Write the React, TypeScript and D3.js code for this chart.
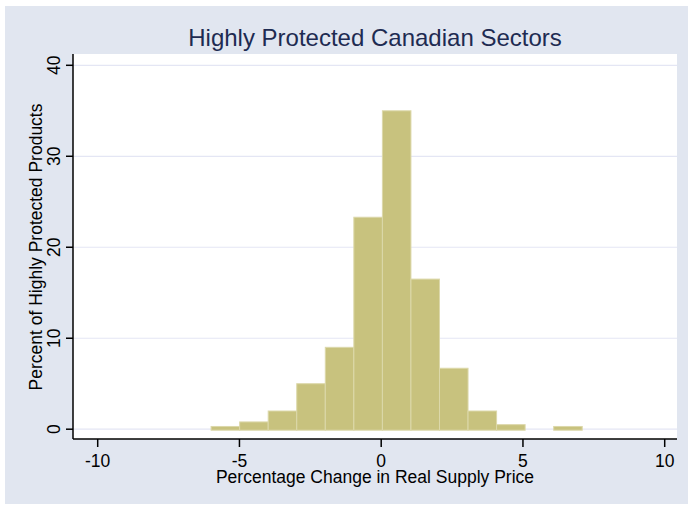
import React from 'react';
import * as d3 from 'd3';

// histogram of % change in real supply price, Stata-style look
const binStart = -6.0;
const binWidth = 1.007;
const percents = [0.3, 0.8, 2.0, 5.0, 9.0, 23.3, 35.0, 16.5, 6.7, 2.0, 0.5, 0, 0.3];
const xTicks = [-10, -5, 0, 5, 10];
const yTicks = [0, 10, 20, 30, 40];

const W = 688;
const H = 506;
const plot = { left: 73, right: 677, top: 54, bottom: 439 };

export default function App() {
  const x = d3.scaleLinear().domain([-10, 10]).range([97.7, 664.7]);
  const y = d3.scaleLinear().domain([0, 40]).range([429.2, 65.3]);

  const bins = percents.map((v, i) => ({
    x0: binStart + i * binWidth,
    x1: binStart + (i + 1) * binWidth,
    v,
  }));

  const font = 'Arial, "Liberation Sans", sans-serif';

  return (
    <svg
      width={W}
      height={H}
      style={{ position: 'absolute', left: 0, top: 0, display: 'block' }}
      fontFamily={font}
    >
      <rect x={0} y={0} width={W} height={H} fill="#ffffff" />
      <rect x={5} y={6} width={W - 5} height={H - 8} fill="#e1e6f0" />
      <rect
        x={plot.left}
        y={plot.top}
        width={plot.right - plot.left}
        height={plot.bottom - plot.top}
        fill="#ffffff"
      />

      {/* gridlines */}
      {yTicks.map((t) => (
        <line
          key={'g' + t}
          x1={plot.left}
          x2={plot.right}
          y1={y(t)}
          y2={y(t)}
          stroke="#e4e6f4"
          strokeWidth={1.2}
        />
      ))}

      {/* bars */}
      {bins
        .filter((b) => b.v > 0)
        .map((b, i) => (
          <rect
            key={'b' + i}
            x={x(b.x0)}
            y={y(b.v)}
            width={x(b.x1) - x(b.x0)}
            height={y(0) - y(b.v) + 1}
            fill="#c8c27e"
            stroke="#dcd8aa"
            strokeWidth={1}
          />
        ))}

      {/* axes */}
      <line x1={plot.left} x2={plot.left} y1={plot.top} y2={plot.bottom} stroke="#000" strokeWidth={1.5} />
      <line x1={plot.left} x2={plot.right} y1={plot.bottom} y2={plot.bottom} stroke="#000" strokeWidth={1.5} />

      {yTicks.map((t) => (
        <g key={'yt' + t}>
          <line x1={plot.left - 7} x2={plot.left} y1={y(t)} y2={y(t)} stroke="#000" strokeWidth={1.5} />
          <text
            transform={`translate(${60},${y(t)}) rotate(-90)`}
            textAnchor="middle"
            fontSize={17.5}
            fill="#000"
          >
            {t}
          </text>
        </g>
      ))}

      {xTicks.map((t) => (
        <g key={'xt' + t}>
          <line x1={x(t)} x2={x(t)} y1={plot.bottom} y2={plot.bottom + 8} stroke="#000" strokeWidth={1.5} />
          <text x={x(t)} y={467} textAnchor="middle" fontSize={17.5} fill="#000">
            {t}
          </text>
        </g>
      ))}

      <text x={375} y={483} textAnchor="middle" fontSize={17.5} fill="#000">
        Percentage Change in Real Supply Price
      </text>
      <text
        transform={`translate(${42},${247}) rotate(-90)`}
        textAnchor="middle"
        fontSize={17.5}
        fill="#000"
      >
        Percent of Highly Protected Products
      </text>

      <text x={375} y={46} textAnchor="middle" fontSize={24} fill="#1e2b52">
        Highly Protected Canadian Sectors
      </text>
    </svg>
  );
}
